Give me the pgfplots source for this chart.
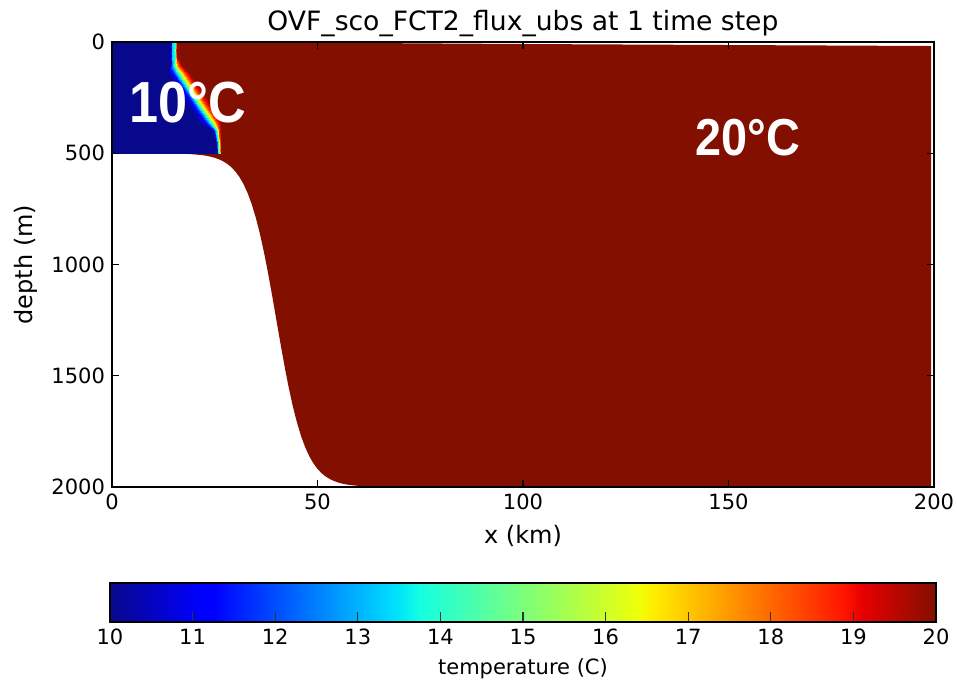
\documentclass[border=0pt]{standalone}
\usepackage{pgfplots}
\pgfplotsset{compat=1.18}
\usepackage{fontspec}
\setmainfont{DejaVu Sans}
\newfontfamily\annfont{Liberation Sans}[FakeStretch=0.9]
\definecolor{deepred}{rgb}{0.51,0.06,0}
\pgfplotsset{colormap={mpljet}{rgb(0pt)=(0.03,0.03,0.55); rgb(22pt)=(0,0,1); rgb(25pt)=(0,0,1); rgb(68pt)=(0,0.86,1); rgb(70pt)=(0,0.9,0.968); rgb(75pt)=(0.081,1,0.887); rgb(128pt)=(0.935,1,0.032); rgb(130pt)=(0.968,0.963,0); rgb(132pt)=(1,0.926,0); rgb(178pt)=(1,0.074,0); rgb(182pt)=(0.909,0,0); rgb(200pt)=(0.51,0.06,0)}}
\begin{document}
\begin{tikzpicture}
\begin{axis}[name=main,
 scale only axis, width=411pt, height=222.5pt,
 xmin=0, xmax=200, ymin=0, ymax=2000, y dir=reverse,
 xtick={0,50,100,150,200}, ytick={0,500,1000,1500,2000},
 /pgf/number format/assume math mode=true,
 /pgf/number format/set thousands separator={},
 tick label style={font=\fontsize{10.5}{12}\selectfont},
 label style={font=\fontsize{12}{14}\selectfont},
 xlabel style={yshift=-1pt},
 title style={font=\fontsize{13.3}{15}\selectfont, yshift=-7pt},
 title={OVF\_sco\_FCT2\_flux\_ubs at 1 time step},
 xlabel={x (km)}, ylabel={depth (m)},
 colormap name=mpljet, point meta min=10, point meta max=20,
 axis line style={line width=0.8pt}, tick style={black, line width=0.6pt}, major tick length=3.5pt,
 axis on top,
]
\addplot[fill=deepred, draw=none] coordinates {
 (0,0) (40,2) (100,9) (199.3,18) (199.3,2000)
 (70,1999.6) (65,1998.7) (62,1997.2) (60,1995.1) (58,1991.3) (57,1988.4) (56,1984.6) (55,1979.6)
 (54,1973) (53,1964.3) (52,1952.9) (51,1938.0) (50,1918.5) (49,1893.6) (48,1861.5) (47,1821.2)
 (46,1771.1) (45,1710.0) (44,1637.3) (43,1553.0) (42,1458.6) (41,1356.4) (40,1250) (39,1143.6)
 (38,1041.4) (37,947.0) (36,862.7) (35,790.0) (34,728.9) (33,678.8) (32,638.5) (31,606.4)
 (30,581.5) (29,562.0) (28,547.1) (27,535.7) (26,527) (25,520.4) (24,515.4) (23,511.6)
 (22,508.7) (20,504.9) (18,502.8) (15,501.2) (10,500.3) (0,500)};
\addplot[surf, shader=interp, mesh/cols=8, point meta=explicit] table[x=x, y=y, meta=T] {
x y T
0 0 10
14.2 0 10
14.5 0 12.5
14.7 0 13.3
15.4 0 14
15.6 0 18
15.8 0 20
28 0 20
0 60 10
14.2 60 10
14.5 60 12.5
14.7 60 13.3
15.4 60 14
15.6 60 18
15.8 60 20
28 60 20
0 110 10
14.2 110 10
14.5 110 12.5
14.8 110 13.3
15.4 110 15
16.0 110 18
17.2 110 20
28 110 20
0 141 10
13.6 141 10
14.9 141 11.3
15.9 141 13.5
16.7 141 16.3
17.7 141 18.5
19.1 141 20
28 141 20
0 216 10
16.0 216 10
17.4 216 11.3
18.5 216 13.5
19.4 216 16.3
20.4 216 18.5
21.8 216 20
28 216 20
0 291 10
18.7 291 10
20.1 291 11.3
21.2 291 13.5
22.1 291 16.3
23.1 291 18.5
24.5 291 20
28 291 20
0 366 10
21.4 366 10
22.8 366 11.3
23.9 366 13.5
24.8 366 16.3
25.6 366 18.5
26.5 366 20
28 366 20
0 400 10
24.3 400 10
24.8 400 11.3
25.3 400 13.5
25.7 400 16.3
26.0 400 18.5
26.4 400 20
28 400 20
0 460 10
25.3 460 10
25.6 460 12
25.8 460 14
26.0 460 16
26.2 460 18
26.5 460 20
28 460 20
0 500 10
25.5 500 10
25.7 500 12.5
25.9 500 13.5
26.1 500 14
26.3 500 17
26.6 500 20
28 500 20
};
\node[text=white, font=\annfont\bfseries\fontsize{29}{30}\selectfont] at (axis cs:18.4,272) {10°C};
\node[text=white, font=\annfont\bfseries\fontsize{26}{27}\selectfont] at (axis cs:154.7,430) {20°C};
\end{axis}
\begin{axis}[name=cb, at={(main.south)}, anchor=north, yshift=-48pt,
 scale only axis, width=413pt, height=19.5pt,
 xmin=10, xmax=20, ymin=0, ymax=1, ytick=\empty,
 xtick={10,11,...,20}, xtick align=inside, xtick pos=left,
 /pgf/number format/assume math mode=true,
 tick label style={font=\fontsize{10.5}{12}\selectfont},
 label style={font=\fontsize{10.5}{12}\selectfont},
 xlabel={temperature (C)},
 colormap name=mpljet, point meta min=10, point meta max=20,
 axis on top,
 axis line style={line width=0.8pt}, tick style={black!80, line width=0.6pt}, major tick length=5pt,
]
\addplot[surf, shader=interp, mesh/cols=2, point meta=explicit] table[x=x, y=y, meta=T] {
x y T
10 0 10
20 0 20
10 1 10
20 1 20
};
\end{axis}
\pgfresetboundingbox
\path ([xshift=-56pt,yshift=-99.5pt]main.south west) rectangle ([xshift=11.5pt,yshift=21pt]main.north east);
\end{tikzpicture}
\end{document}
